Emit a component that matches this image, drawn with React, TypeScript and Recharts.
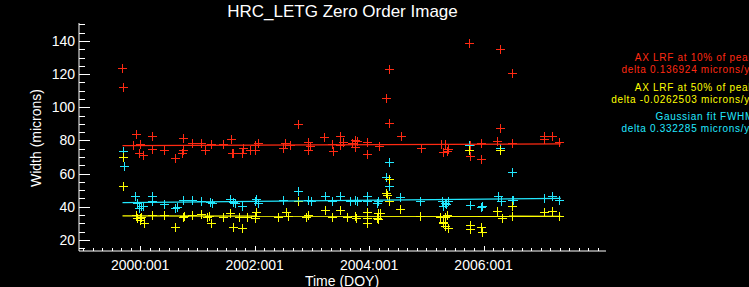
import { ComposedChart, Scatter, XAxis, YAxis } from "recharts";

// decimal year, width in microns
const redPts: [number, number][] = [
  [1999.69, 124], [1999.7, 112], [1999.92, 84], [2000.2, 83], [2000.2, 75],
  [1999.99, 77.6], [1999.97, 72.5], [2000.05, 71.5], [1999.87, 77], [2000.42, 74.5],
  [2000.61, 69.5], [2000.75, 81.6], [2000.75, 74.5], [2000.73, 72.5], [2000.9, 78.6],
  [2001.07, 78.6], [2001.13, 74.5], [2001.24, 78], [2001.45, 78], [2001.6, 72.5],
  [2001.59, 81], [2001.63, 72.5], [2001.77, 72.5], [2001.8, 75.6], [2001.92, 74.5],
  [2002.01, 77], [2002.06, 78.6], [2002.01, 74], [2002.5, 75.6], [2002.53, 78.6],
  [2002.62, 77], [2002.76, 89.7], [2002.94, 79], [2002.94, 74.5], [2002.97, 76.5],
  [2003.21, 82.2], [2003.35, 77.6], [2003.37, 73.5], [2003.49, 82.6], [2003.49, 77],
  [2003.55, 79], [2003.7, 78.2], [2003.75, 80.2], [2003.75, 76.2], [2003.78, 79.6],
  [2003.97, 79], [2003.97, 72.1], [2004.17, 76.5], [2004.35, 123.4], [2004.3, 105.9],
  [2004.34, 90.3], [2004.55, 83], [2004.9, 75.6], [2005.25, 77.6], [2005.3, 72.9],
  [2005.38, 75], [2005.36, 73.5], [2005.33, 78], [2005.75, 138.6], [2005.76, 70.9],
  [2005.76, 77], [2005.96, 78.2], [2005.96, 68.9], [2006.29, 135], [2006.29, 87.5],
  [2006.23, 79.6], [2006.5, 121], [2006.5, 78.6], [2007.05, 80.6], [2007.05, 82.6],
  [2007.19, 82.6], [2007.31, 79],
];

const yellowPts: [number, number][] = [
  [1999.7, 70.1], [1999.7, 52.7], [1999.92, 35], [1999.94, 33], [1999.99, 32],
  [2000.02, 34], [2000.0, 33.5], [2000.06, 30.5], [2000.2, 35], [2000.41, 35],
  [2000.61, 27.7], [2000.75, 33.8], [2000.77, 34.5], [2000.9, 35], [2001.07, 35.8],
  [2001.16, 34], [2001.2, 34.5], [2001.23, 30.5], [2001.45, 33.8], [2001.57, 36.5],
  [2001.63, 27.7], [2001.73, 34], [2001.78, 27], [2001.86, 33.8], [2002.01, 34.5],
  [2002.03, 37], [2002.0, 33.5], [2002.41, 33.8], [2002.55, 37], [2002.59, 34.5],
  [2002.76, 43.6], [2002.94, 35], [2002.9, 34], [2003.23, 38], [2003.35, 33.8],
  [2003.49, 38], [2003.61, 33.8], [2003.75, 34.5], [2003.77, 33.5], [2003.96, 37],
  [2003.96, 30], [2003.97, 33.2], [2004.13, 33], [2004.15, 36.2], [2004.16, 32.5],
  [2004.19, 36.5], [2004.3, 48.3], [2004.35, 56.8], [2004.34, 43.2], [2004.31, 47.3],
  [2004.54, 38.6], [2004.89, 34.5], [2005.24, 33.8], [2005.29, 31], [2005.3, 30.1],
  [2005.33, 28.5], [2005.38, 27], [2005.36, 35], [2005.32, 34], [2005.75, 74.5],
  [2005.76, 29], [2005.76, 26.5], [2005.95, 28], [2005.97, 25], [2006.23, 37.6],
  [2006.33, 33], [2006.29, 74], [2006.5, 34.5], [2006.5, 40.6], [2007.05, 37],
  [2007.19, 37.6], [2007.31, 34.5],
];

const cyanPts: [number, number][] = [
  [1999.7, 73.5], [1999.72, 64.8], [1999.91, 46.7], [1999.94, 42.2], [2000.02, 40.2],
  [1999.98, 39.5], [2000.05, 40.5], [2000.2, 46.7], [2000.2, 43.2], [2000.41, 41.8],
  [2000.61, 39.2], [2000.65, 39.8], [2000.75, 43.8], [2000.9, 44.2], [2001.07, 43.2],
  [2001.22, 42.6], [2001.26, 42], [2001.57, 44.7], [2001.63, 42.6], [2001.66, 42],
  [2001.77, 40.2], [2002.01, 43.2], [2002.03, 44.7], [2002.05, 42.5], [2002.5, 44.2],
  [2002.76, 49.3], [2002.94, 44.2], [2002.98, 43.5], [2003.23, 46.7], [2003.35, 43.2],
  [2003.49, 46.7], [2003.67, 43.2], [2003.75, 44.2], [2003.78, 43.5], [2003.96, 46.7],
  [2003.96, 43.2], [2004.13, 42.2], [2004.16, 43.2], [2004.35, 66.8], [2004.3, 58],
  [2004.34, 52.3], [2004.54, 45.9], [2004.89, 43.2], [2005.27, 43.2], [2005.3, 40.2],
  [2005.33, 42.5], [2005.38, 43.2], [2005.35, 41.5], [2005.75, 77], [2005.76, 41.2],
  [2005.95, 39.6], [2005.97, 40.5], [2006.29, 75.6], [2006.26, 46.7], [2006.31, 43.2],
  [2006.5, 60.8], [2006.5, 43.8], [2006.52, 43.8], [2007.05, 45.3], [2007.19, 46.7],
  [2007.31, 43.8],
];

// linear fits: end points over the data span
const fitYears = [1999.69, 2007.35];
const redFit = [76.9, 77.95];
const yellowFit = [34.45, 34.25];
const cyanFit = [42.5, 45.0];

const majorYears = [2000, 2002, 2004, 2006];
const xLabels = ["2000:001", "2002:001", "2004:001", "2006:001"];
const yLabels = [20, 40, 60, 80, 100, 120, 140];

const legendLines = [
  { text: "AX LRF at 10% of peak", color: "#ff2a12" },
  { text: "delta 0.136924 microns/yr", color: "#ff2a12" },
  { text: "AX LRF at 50% of peak", color: "#ffff00" },
  { text: "delta -0.0262503 microns/yr", color: "#ffff00" },
  { text: "Gaussian fit FWHM", color: "#22e8ff" },
  { text: "delta 0.332285 microns/yr", color: "#22e8ff" },
];

const RED = "#ff2a12";
const YELLOW = "#ffff00";
const CYAN = "#22e8ff";
const FONT = "'Liberation Sans', Arial, sans-serif";

const X_DOMAIN: [number, number] = [1998.93, 2008.14];
const Y_DOMAIN: [number, number] = [13.3, 150.9];

const xTicks = Array.from({ length: 55 }, (_, i) => 1999 + i / 6);
const yTicks = Array.from({ length: 28 }, (_, i) => 15 + i * 5);

const rows = (pts: [number, number][]) => pts.map(([x, y]) => ({ x, y }));
const fitRows = (vals: number[]) => fitYears.map((x, i) => ({ x, y: vals[i] }));

const majorIdx = (v: number) => majorYears.findIndex((m) => Math.abs(m - v) < 1e-6);
const isMajorY = (v: number) => yLabels.includes(v);

const cross = (color: string) => (p: any) => {
  const cx = Math.round(p.cx) + 0.5;
  const cy = Math.round(p.cy) + 0.5;
  return (
    <g stroke={color} strokeWidth={1}>
      <line x1={cx - 4.5} x2={cx + 4.5} y1={cy} y2={cy} />
      <line x1={cx} x2={cx} y1={cy - 4.5} y2={cy + 4.5} />
    </g>
  );
};

const noDot = () => <g />;

function BottomTick(p: any) {
  const i = majorIdx(p.payload.value);
  const x = Math.round(p.x) + 0.5;
  return (
    <g>
      <line x1={x} x2={x} y1={p.y} y2={p.y - (i >= 0 ? 5 : 3)} stroke="#fff" />
      {i >= 0 && (
        <text x={p.x} y={p.y + 19} textAnchor="middle" fill="#fff" fontSize={14} fontFamily={FONT}>
          {xLabels[i]}
        </text>
      )}
    </g>
  );
}

function TopTick(p: any) {
  const i = majorIdx(p.payload.value);
  const x = Math.round(p.x) + 0.5;
  return <line x1={x} x2={x} y1={p.y} y2={p.y + (i >= 0 ? 6 : 3)} stroke="#fff" />;
}

function LeftTick(p: any) {
  const v = p.payload.value;
  const major = isMajorY(v);
  const y = Math.round(p.y) + 0.5;
  return (
    <g>
      <line x1={p.x} x2={p.x + (major ? 11 : 6)} y1={y} y2={y} stroke="#fff" />
      {major && (
        <text x={p.x - 4} y={p.y + 5} textAnchor="end" fill="#fff" fontSize={14} fontFamily={FONT}>
          {v}
        </text>
      )}
    </g>
  );
}

function RightTick(p: any) {
  const major = isMajorY(p.payload.value);
  const y = Math.round(p.y) + 0.5;
  return <line x1={p.x} x2={p.x - (major ? 11 : 5)} y1={y} y2={y} stroke="#fff" />;
}

const legendY = [61, 72.5, 91, 102.5, 120, 132];

export default function App() {
  return (
    <div style={{ position: "relative", width: 749, height: 287, background: "#000" }}>
      <style>{"body{margin:0;background:#000}"}</style>
      <ComposedChart
        width={749}
        height={287}
        margin={{ top: 23, right: 143, bottom: 6, left: 39 }}
        style={{ background: "#000" }}
      >
        <XAxis
          type="number"
          dataKey="x"
          domain={X_DOMAIN}
          allowDataOverflow
          ticks={xTicks}
          interval={0}
          height={30}
          tickSize={0}
          tickMargin={0}
          tickLine={false}
          axisLine={{ stroke: "#fff" }}
          tick={(p: any) => <BottomTick {...p} />}
        />
        <XAxis
          xAxisId="top"
          orientation="top"
          type="number"
          dataKey="x"
          domain={X_DOMAIN}
          allowDataOverflow
          ticks={xTicks}
          interval={0}
          height={0}
          tickSize={0}
          tickMargin={0}
          tickLine={false}
          axisLine={{ stroke: "#fff" }}
          tick={(p: any) => <TopTick {...p} />}
        />
        <YAxis
          type="number"
          dataKey="y"
          domain={Y_DOMAIN}
          allowDataOverflow
          ticks={yTicks}
          interval={0}
          width={40}
          tickSize={0}
          tickMargin={0}
          tickLine={false}
          axisLine={{ stroke: "#fff" }}
          tick={(p: any) => <LeftTick {...p} />}
        />
        <YAxis
          yAxisId="right"
          orientation="right"
          type="number"
          dataKey="y"
          domain={Y_DOMAIN}
          allowDataOverflow
          ticks={yTicks}
          interval={0}
          width={0}
          tickSize={0}
          tickMargin={0}
          tickLine={false}
          axisLine={{ stroke: "#fff" }}
          tick={(p: any) => <RightTick {...p} />}
        />
        <Scatter data={rows(redPts)} shape={cross(RED)} isAnimationActive={false} />
        <Scatter data={rows(cyanPts)} shape={cross(CYAN)} isAnimationActive={false} />
        <Scatter data={rows(yellowPts)} shape={cross(YELLOW)} isAnimationActive={false} />
        <Scatter data={fitRows(redFit)} line={{ stroke: RED, strokeWidth: 1.3 }} shape={noDot} isAnimationActive={false} />
        <Scatter data={fitRows(cyanFit)} line={{ stroke: CYAN, strokeWidth: 1.3 }} shape={noDot} isAnimationActive={false} />
        <Scatter data={fitRows(yellowFit)} line={{ stroke: YELLOW, strokeWidth: 1.3 }} shape={noDot} isAnimationActive={false} />
      </ComposedChart>
      <svg
        width={749}
        height={287}
        style={{ position: "absolute", left: 0, top: 0, pointerEvents: "none" }}
        fontFamily={FONT}
      >
        <text x={342.5} y={17} textAnchor="middle" fill="#fff" fontSize={17}>
          HRC_LETG Zero Order Image
        </text>
        <text x={342} y={286} textAnchor="middle" fill="#fff" fontSize={14}>
          Time (DOY)
        </text>
        <text x={41} y={138} textAnchor="middle" fill="#fff" fontSize={14} transform="rotate(-90 41 138)">
          Width (microns)
        </text>
        {legendLines.map((l, i) => (
          <text key={i} x={754} y={legendY[i]} textAnchor="end" fill={l.color} fontSize={10} letterSpacing={0.7}>
            {l.text}
          </text>
        ))}
      </svg>
    </div>
  );
}
